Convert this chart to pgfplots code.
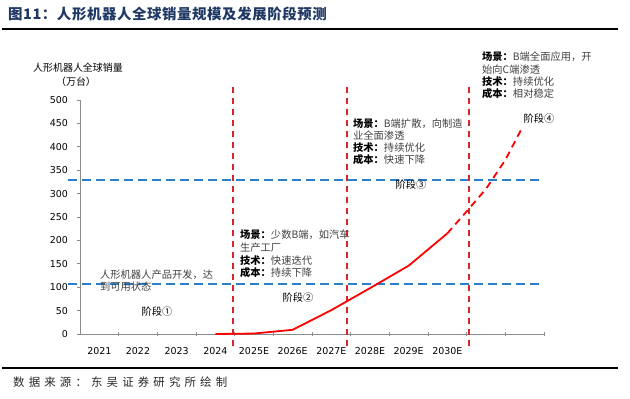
\documentclass[border=0pt]{standalone}
\usepackage{pgfplots}
\pgfplotsset{compat=1.18}
\usepackage{fontspec}
\setmainfont{DejaVu Sans}
\newfontfamily\cjk{Noto Sans CJK SC}
\definecolor{titleblue}{RGB}{31,56,100}
\definecolor{bline}{RGB}{41,128,200}
\definecolor{rline}{RGB}{214,39,40}
\definecolor{txtgray}{RGB}{64,64,64}
\definecolor{axgray}{RGB}{140,140,140}
\newcommand{\lb}[1]{{\bfseries\color{black}#1}}
\begin{document}
\begin{tikzpicture}[x=1bp,y=1bp]
\path[use as bounding box] (0,0) rectangle (630,398);
\begin{axis}[at={(80bp,64bp)}, anchor=south west, scale only axis,
  width=464bp, height=234bp,
  xmin=0, xmax=12, ymin=0, ymax=500, clip=false,
  axis x line=bottom, axis y line=left,
  axis line style={-, axgray, line width=0.8bp},
  xtick={0.5,1.5,2.5,3.5,4.5,5.5,6.5,7.5,8.5,9.5},
  xticklabels={2021,2022,2023,2024,2025E,2026E,2027E,2028E,2029E,2030E},
  minor xtick={1,2,3,4,5,6,7,8,9,10,11,12},
  major x tick style={draw=none},
  minor x tick style={axgray, line width=0.8bp},
  minor tick length=3.5bp, major tick length=3.5bp,
  ytick={0,50,...,500},
  ytick align=outside,
  ytick style={axgray, line width=0.8bp},
  /pgf/number format/assume math mode=true,
  ticklabel style={font=\fontsize{9.5}{11}\selectfont, text=black},
  xticklabel style={yshift=-8bp},
  yticklabel style={xshift=-5bp},
]
% horizontal blue dashed lines
\addplot[bline, line width=1.8bp, dash pattern=on 9bp off 5bp] coordinates {(-0.31,107) (12,107)};
\addplot[bline, line width=1.8bp, dash pattern=on 9bp off 5bp] coordinates {(-0.31,329) (12,329)};
% red vertical dashed lines
\addplot[rline, line width=1.8bp, dash pattern=on 6bp off 5bp] coordinates {(3.95,-26) (3.95,534)};
\addplot[rline, line width=1.8bp, dash pattern=on 6bp off 5bp] coordinates {(6.9,-26) (6.9,534)};
\addplot[rline, line width=1.8bp, dash pattern=on 6bp off 5bp] coordinates {(10.05,-26) (10.05,534)};
% sales curve
\addplot[red, line width=1.8bp] coordinates {(3.5,0) (4.5,1) (5.5,9) (6.5,51) (7.5,98) (8.5,146) (9.5,215)};
\addplot[red, line width=1.8bp, dash pattern=on 7bp off 5bp] coordinates {(9.5,215) (10,262) (10.5,310) (11,372) (11.43,440)};
\end{axis}
% title and rules
\node[anchor=west, inner sep=0, font=\cjk\bfseries\fontsize{14.5}{16}\selectfont\addfontfeature{LetterSpace=4}, text=titleblue] at (8,384) {图11：人形机器人全球销量规模及发展阶段预测};
\draw[black, line width=2bp] (2,369) -- (618,369);
\draw[black, line width=2bp] (2,30) -- (618,30);
\node[anchor=west, inner sep=0, font=\cjk\fontsize{11.5}{13}\selectfont\addfontfeature{LetterSpace=36}, text=black!85] at (13,16) {数据来源：东吴证券研究所绘制};
% y label
\node[inner sep=0, font=\cjk\fontsize{10}{12}\selectfont] at (78,330) {人形机器人全球销量};
\node[inner sep=0, font=\cjk\fontsize{10}{12}\selectfont] at (76,316) {（万台）};
% stage texts
\begin{scope}[every node/.style={anchor=west, inner sep=0, font=\cjk\fontsize{10.3}{12}\selectfont, text=txtgray}]
\node at (100,123) {人形机器人产品开发，达};
\node at (100,111) {到可用状态};
\node at (240,163) {\lb{场景：}少数B端，如汽车};
\node at (240,150) {生产工厂};
\node at (240,137) {\lb{技术：}快速迭代};
\node at (240,125) {\lb{成本：}持续下降};
\node at (353,274) {\lb{场景：}B端扩散，向制造};
\node at (353,262) {业全面渗透};
\node at (353,250) {\lb{技术：}持续优化};
\node at (353,238) {\lb{成本：}快速下降};
\node at (482,341) {\lb{场景：}B端全面应用，开};
\node at (482,328) {始向C端渗透};
\node at (482,316) {\lb{技术：}持续优化};
\node at (482,304) {\lb{成本：}相对稳定};
\end{scope}
\begin{scope}[every node/.style={inner sep=0, font=\cjk\fontsize{10.3}{12}\selectfont, text=black}]
\node at (157,86) {阶段①};
\node at (298,100) {阶段②};
\node at (411,213) {阶段③};
\node at (539,279) {阶段④};
\end{scope}
\end{tikzpicture}
\end{document}
